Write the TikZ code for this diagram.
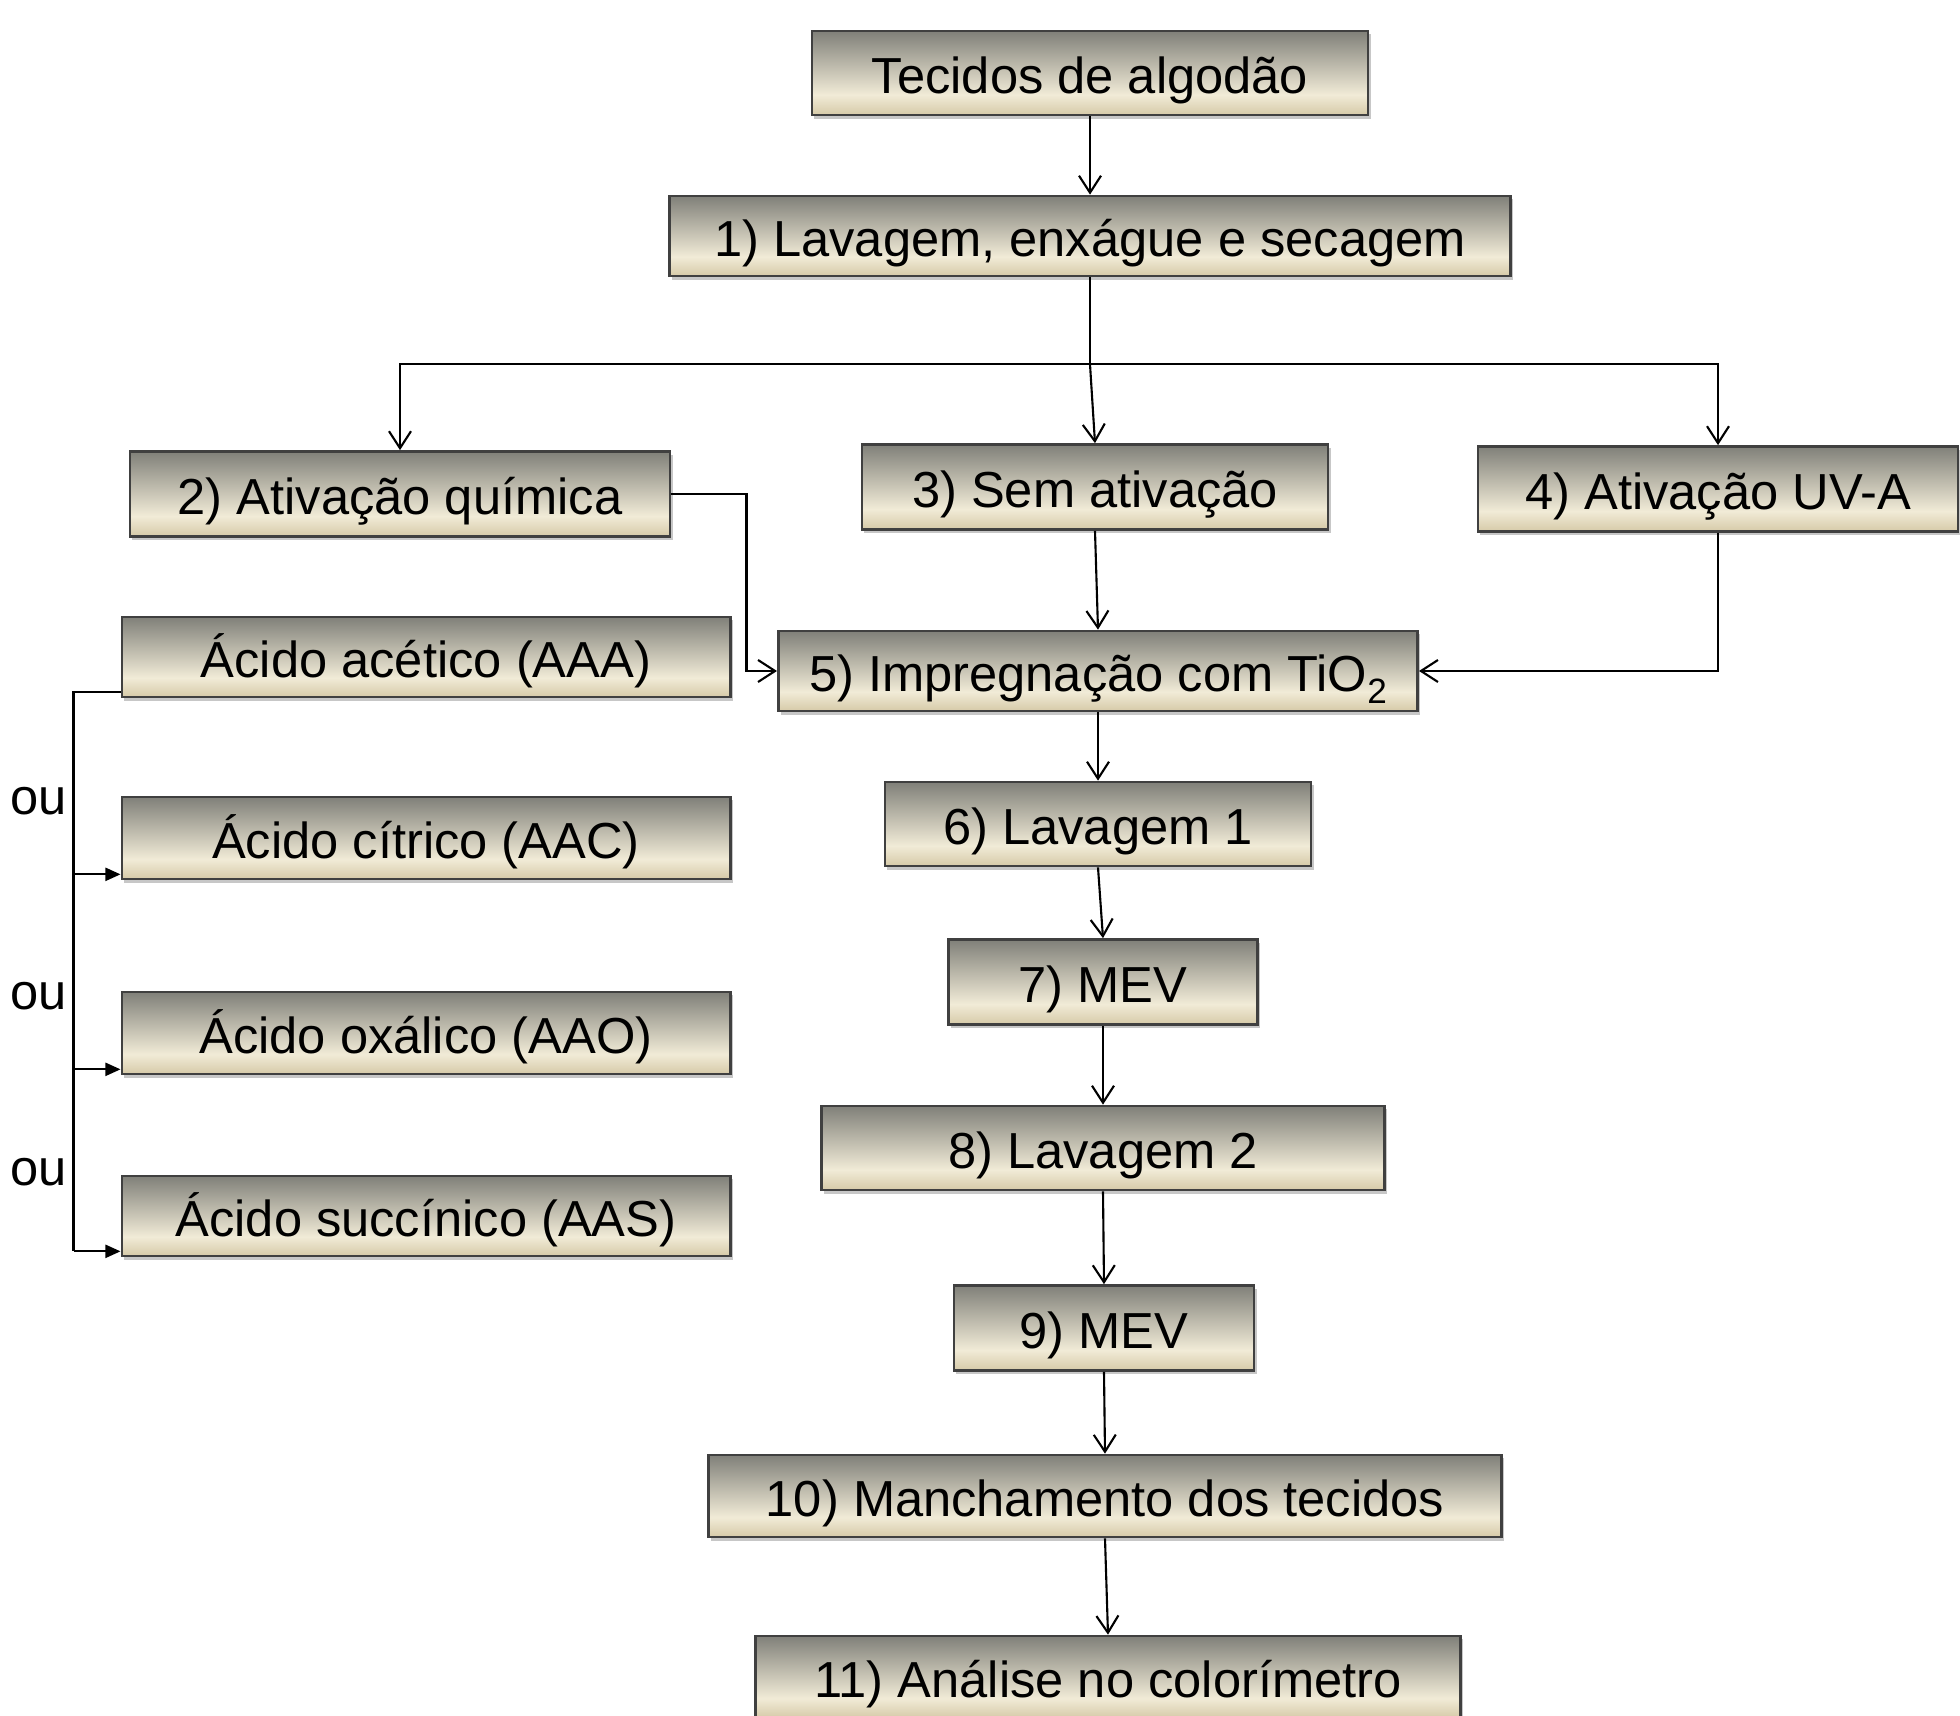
\documentclass[tikz,border=0pt]{standalone}
\usepackage{fontspec}
\setmainfont{Liberation Sans}
\usepackage{tikz}
\usetikzlibrary{arrows.meta,positioning,calc,shadows}
\usepackage{xcolor}
\definecolor{boxtop}{RGB}{128,128,121}
\definecolor{boxmid}{RGB}{241,235,215}
\definecolor{boxbot}{RGB}{214,202,168}
\definecolor{boxline}{RGB}{64,64,64}
\pgfdeclareverticalshading{boxshade}{100bp}{color(0bp)=(boxbot); color(25bp)=(boxbot); color(37bp)=(boxmid); color(75bp)=(boxtop); color(100bp)=(boxtop)}

\begin{document}
\begin{tikzpicture}[x=0.01cm, y=-0.01cm,
    every node/.style={font=\fontsize{14.4}{17}\selectfont},
    proc/.style={draw=boxline, line width=0.75pt, shading=boxshade, inner sep=0pt,
      text height=11.6pt, text depth=0pt,
      drop shadow={shadow xshift=0.025cm, shadow yshift=-0.035cm, opacity=0.22, fill=black}},
    link/.style={line width=0.6pt},
    arr/.style={link, -{Straight Barb[length=0.17cm, width=0.22cm]}},
    tri/.style={link, -{Triangle[length=0.15cm, width=0.13cm]}}]
        \clip (0,0) rectangle (1960,1716);

        % main column
        \node[proc, minimum width=5.56cm, minimum height=0.84cm] (top) at (1090,73) {Tecidos de algodão};
        \node[proc, minimum width=8.40cm, minimum height=0.80cm] (n1) at (1090,236) {1) Lavagem, enxágue e secagem};
        \node[proc, minimum width=5.40cm, minimum height=0.85cm] (n2) at (400,494) {2) Ativação química};
        \node[proc, minimum width=4.66cm, minimum height=0.85cm] (n3) at (1095,487) {3) Sem ativação};
        \node[proc, minimum width=4.80cm, minimum height=0.85cm] (n4) at (1718,489) {4) Ativação UV-A};
        \node[proc, minimum width=6.39cm, minimum height=0.80cm] (n5) at (1098,671) {5) Impregnação com TiO\raisebox{-0.45ex}{\fontsize{10}{12}\selectfont 2}};
        \node[proc, minimum width=4.26cm, minimum height=0.84cm] (n6) at (1098,824) {6) Lavagem 1};
        \node[proc, minimum width=3.09cm, minimum height=0.85cm] (n7) at (1103,982) {7) MEV};
        \node[proc, minimum width=5.63cm, minimum height=0.84cm] (n8) at (1103,1148) {8) Lavagem 2};
        \node[proc, minimum width=3.00cm, minimum height=0.85cm] (n9) at (1104,1328) {9) MEV};
        \node[proc, minimum width=7.92cm, minimum height=0.82cm] (n10) at (1105,1496) {10) Manchamento dos tecidos};
        \node[proc, minimum width=7.05cm, minimum height=0.82cm] (n11) at (1108,1677) {11) Análise no colorímetro};

        % acids
        \node[proc, minimum width=6.08cm, minimum height=0.80cm] (acid1) at (426,657) {Ácido acético (AAA)};
        \node[proc, minimum width=6.08cm, minimum height=0.82cm] (acid2) at (426,838) {Ácido cítrico (AAC)};
        \node[proc, minimum width=6.08cm, minimum height=0.82cm] (acid3) at (426,1033) {Ácido oxálico (AAO)};
        \node[proc, minimum width=6.08cm, minimum height=0.80cm] (acid4) at (426,1216) {Ácido succínico (AAS)};
        \node (ou1) at (39,801) {ou};
        \node (ou2) at (39,996) {ou};
        \node (ou3) at (39,1172) {ou};

        % connectors
        \draw[arr] (top.south) -- (n1.north);
        \draw[link] (n1.south) -- ++(0,87) coordinate (fork);
        \draw[arr] (fork) -| (n2.north);
        \draw[arr] (fork) -| (n4.north);
        \draw[arr] (fork) -- (n3.north);
        \draw[arr] (n2.east) -- ++(75,0) |- (n5.west);
        \draw[arr] (n4.south) |- (n5.east);
        \draw[arr] (n3.south) -- (n5.north);
        \draw[arr] (n5.south) -- (n6.north);
        \draw[arr] (n6.south) -- (n7.north);
        \draw[arr] (n7.south) -- (n8.north);
        \draw[arr] (n8.south) -- (n9.north);
        \draw[arr] (n9.south) -- (n10.north);
        \draw[arr] (n10.south) -- (n11.north);

        \foreach \a in {acid1,acid2,acid3,acid4}
          \coordinate (\a-in) at ($(\a.south west)+(0,-6)$);
        \coordinate (bus) at ($(acid1-in)+(-47,0)$);
        \draw[link] (acid1-in) -- (bus) -- (bus |- acid4-in);
        \foreach \a in {acid2,acid3,acid4}
          \draw[tri] (bus |- \a-in) -- (\a-in);
      \end{tikzpicture}
\end{document}
